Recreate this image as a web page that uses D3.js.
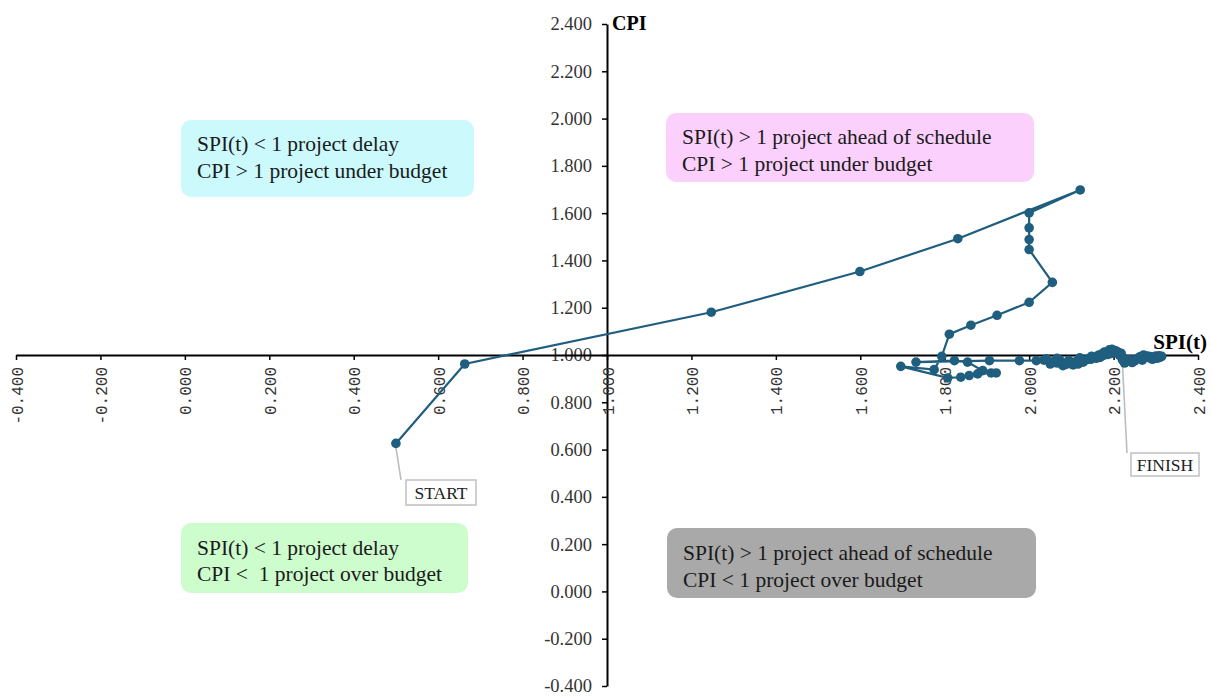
<!DOCTYPE html>
<html>
<head>
<meta charset="utf-8">
<script src="https://cdn.jsdelivr.net/npm/d3@7/dist/d3.min.js"></script>
<style>
  html, body { margin: 0; padding: 0; background: #fff; }
  svg { display: block; }
</style>
</head>
<body>
<svg id="chart" width="1212" height="698"></svg>
<script>
// SPI(t) (schedule performance) and CPI (cost performance) per reporting period
const spi = [
  0.500, 0.663, 1.247, 1.599, 1.831, 2.121, 2.000, 2.000, 2.000, 2.000,
  2.055, 2.000, 1.924, 1.862, 1.811, 1.793, 1.775, 1.696, 1.807, 1.838,
  1.858, 1.878, 1.910, 1.922, 1.890, 1.854, 1.823, 1.732, 1.906, 1.977,
  2.017, 2.035, 2.059, 2.072, 2.087, 2.098, 2.111, 2.122, 2.135, 2.146,
  2.159, 2.168, 2.175, 2.186, 2.195, 2.207, 2.212, 2.218, 2.225, 2.231,
  2.240, 2.247, 2.256, 2.262, 2.271, 2.280, 2.287, 2.296, 2.303, 2.310,
  2.314, 2.300, 2.285, 2.265, 2.250, 2.238, 2.228, 2.200, 2.190, 2.178,
  2.165, 2.150, 2.140, 2.128, 2.116, 2.104, 2.092, 2.080, 2.066, 2.050,
  2.041, 2.066, 2.094, 2.120, 2.148, 2.172, 2.196, 2.205, 2.214, 2.226,
  2.244, 2.268, 2.292, 2.308, 2.221
];
const cpi = [
  0.626, 0.962, 1.181, 1.353, 1.492, 1.698, 1.601, 1.538, 1.488, 1.446,
  1.307, 1.223, 1.168, 1.126, 1.088, 0.994, 0.938, 0.952, 0.903, 0.906,
  0.913, 0.920, 0.924, 0.924, 0.934, 0.970, 0.976, 0.970, 0.976, 0.976,
  0.976, 0.978, 0.972, 0.980, 0.960, 0.968, 0.972, 0.975, 0.979, 0.982,
  0.986, 0.990, 0.997, 1.002, 1.007, 1.014, 1.010, 1.007, 0.985, 0.972,
  0.976, 0.979, 0.985, 0.992, 1.000, 0.996, 0.993, 0.990, 0.986, 0.990,
  0.994, 0.996, 0.988, 0.982, 0.975, 0.980, 0.982, 1.020, 1.022, 1.012,
  1.000, 0.992, 0.984, 0.970, 0.962, 0.958, 0.964, 0.955, 0.966, 0.962,
  0.984, 0.986, 0.978, 0.988, 0.995, 1.004, 1.024, 1.018, 0.998, 0.966,
  0.968, 0.978, 0.982, 0.997, 0.979
];

// Axis ticks
const xTicks = [-0.4, -0.2, 0.0, 0.2, 0.4, 0.6, 0.8, 1.0, 1.2, 1.4, 1.6, 1.8, 2.0, 2.2, 2.4];
const yTicks = [-0.4, -0.2, 0.0, 0.2, 0.4, 0.6, 0.8, 1.0, 1.2, 1.4, 1.6, 1.8, 2.0, 2.2, 2.4];

// Quadrant explanations
const quadrantLines = [
  ["SPI(t) < 1 project delay", "CPI > 1 project under budget"],
  ["SPI(t) > 1 project ahead of schedule", "CPI > 1 project under budget"],
  ["SPI(t) < 1 project delay", "CPI <  1 project over budget"],
  ["SPI(t) > 1 project ahead of schedule", "CPI < 1 project over budget"]
];
const quadrantFills = ["#ccf9fc", "#fcd0fc", "#cdfccd", "#a9a9a9"];

const svg = d3.select("#chart");
const serif = "'Liberation Serif', 'Times New Roman', serif";
const lineColor = "#1f5e7e";

const x = d3.scaleLinear().domain([-0.4, 2.4]).range([16, 1198]);
const y = d3.scaleLinear().domain([-0.4, 2.4]).range([686, 24]);

const fmt = d => d.toFixed(3);

// Quadrant boxes
const boxes = [
  { x: 181, y: 120, w: 293, h: 77, tx: 197, ty: [151, 178] },
  { x: 666, y: 113, w: 368, h: 69, tx: 682, ty: [144, 171] },
  { x: 181, y: 523, w: 287, h: 70, tx: 197, ty: [555, 581] },
  { x: 667, y: 528, w: 369, h: 70, tx: 683, ty: [560, 587] }
];
const qg = svg.append("g");
boxes.forEach((b, i) => {
  qg.append("rect")
    .attr("x", b.x).attr("y", b.y).attr("width", b.w).attr("height", b.h)
    .attr("rx", 10).attr("ry", 10)
    .attr("fill", quadrantFills[i]);
  quadrantLines[i].forEach((t, j) => {
    qg.append("text")
      .attr("x", b.tx).attr("y", b.ty[j])
      .attr("font-family", serif).attr("font-size", 21.5)
      .attr("fill", "#1a1a1a")
      .style("white-space", "pre")
      .attr("xml:space", "preserve")
      .text(t);
  });
});

// Y axis at SPI(t) = 1
const yAxis = svg.append("g")
  .attr("transform", `translate(${x(1)},0)`)
  .call(d3.axisLeft(y).tickValues(yTicks).tickFormat(fmt).tickSize(5).tickSizeOuter(0).tickPadding(10));
yAxis.select(".domain").attr("stroke", "#000").attr("stroke-width", 2);
yAxis.selectAll(".tick line").attr("stroke", "#000").attr("stroke-width", 1.5);
yAxis.selectAll(".tick text")
  .attr("font-family", serif).attr("font-size", 18.5).attr("fill", "#333");

// X axis at CPI = 1
const xAxis = svg.append("g")
  .attr("transform", `translate(0,${y(1)})`)
  .call(d3.axisBottom(x).tickValues(xTicks).tickFormat(fmt).tickSize(5).tickSizeOuter(0));
xAxis.select(".domain").attr("stroke", "#000").attr("stroke-width", 2);
xAxis.selectAll(".tick line").attr("stroke", "#000").attr("stroke-width", 1.5);
xAxis.selectAll(".tick text")
  .attr("font-family", "'Liberation Mono', monospace").attr("font-size", 16).attr("fill", "#333")
  .attr("text-anchor", "end")
  .attr("dy", null)
  .attr("y", 0)
  .attr("transform", "translate(6,12) rotate(-90)");

// Axis titles
svg.append("text").attr("x", x(1) + 5).attr("y", 30)
  .attr("font-family", serif).attr("font-size", 20).attr("font-weight", "bold")
  .text("CPI");
svg.append("text").attr("x", 1207).attr("y", 349).attr("text-anchor", "end")
  .attr("font-family", serif).attr("font-size", 21).attr("font-weight", "bold")
  .text("SPI(t)");

// Start / finish callouts
const n = spi.length;
const callouts = [
  { i: 0, label: "START", bx: 406, by: 480, bw: 70, bh: 25, lx: 401 },
  { i: n - 1, label: "FINISH", bx: 1131, by: 453, bw: 68, bh: 23, lx: 1127 }
];
const cg = svg.append("g");
callouts.forEach(c => {
  cg.append("line")
    .attr("x1", x(spi[c.i])).attr("y1", y(cpi[c.i]) + 4)
    .attr("x2", c.lx).attr("y2", c.by)
    .attr("stroke", "#bdbdbd").attr("stroke-width", 1.6);
  cg.append("rect")
    .attr("x", c.bx).attr("y", c.by).attr("width", c.bw).attr("height", c.bh)
    .attr("fill", "#fff").attr("stroke", "#c4c4c4").attr("stroke-width", 1.6);
  cg.append("text")
    .attr("x", c.bx + c.bw / 2).attr("y", c.by + c.bh / 2 + 6)
    .attr("text-anchor", "middle")
    .attr("font-family", serif).attr("font-size", 17.5).attr("fill", "#222")
    .text(c.label);
});

// Performance trajectory
const pts = spi.map((s, i) => [s, cpi[i]]);
svg.append("path")
  .datum(pts)
  .attr("fill", "none")
  .attr("stroke", lineColor)
  .attr("stroke-width", 2.2)
  .attr("d", d3.line().x(d => x(d[0])).y(d => y(d[1])));
svg.append("g").selectAll("circle")
  .data(pts)
  .join("circle")
  .attr("cx", d => x(d[0]))
  .attr("cy", d => y(d[1]))
  .attr("r", 4.8)
  .attr("fill", lineColor);
</script>
</body>
</html>
